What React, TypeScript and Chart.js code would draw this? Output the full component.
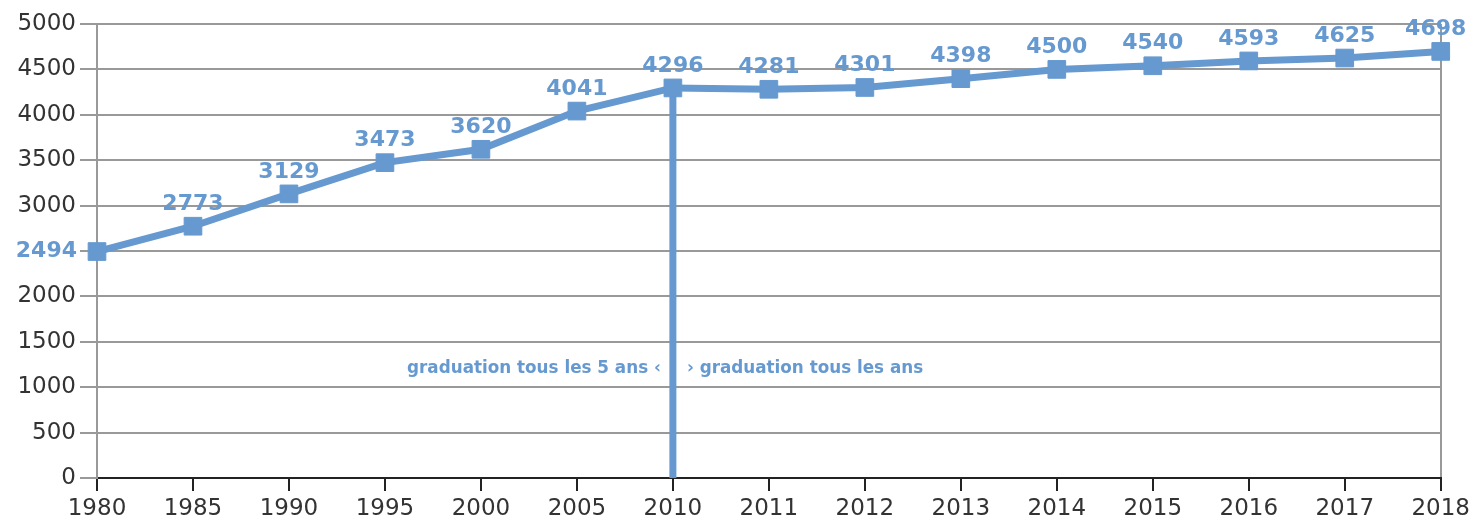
import React, { useEffect, useRef } from "react";
import { Chart, registerables } from "chart.js";

Chart.register(...registerables);

const years = ["1980", "1985", "1990", "1995", "2000", "2005", "2010", "2011", "2012", "2013", "2014", "2015", "2016", "2017", "2018"];
const values = [2494, 2773, 3129, 3473, 3620, 4041, 4296, 4281, 4301, 4398, 4500, 4540, 4593, 4625, 4698];
const splitYear = "2010";
const noteLeft = "graduation tous les 5 ans ‹";
const noteRight = "› graduation tous les ans";
const noteValue = 1000;

const BLUE = "#6699d0";
const GRID = "#999999";
const TEXT = "#333333";

const overlayPlugin = {
  id: "overlay",
  beforeDatasetsDraw(chart: any) {
    const { ctx, scales } = chart;
    const xs = scales.x;
    const ys = scales.y;
    const i = years.indexOf(splitYear);
    const x = xs.getPixelForValue(i);
    const yTop = ys.getPixelForValue(values[i]);
    const yBot = ys.getPixelForValue(0);
    ctx.save();
    ctx.strokeStyle = BLUE;
    ctx.lineWidth = 7;
    ctx.beginPath();
    ctx.moveTo(x, yTop);
    ctx.lineTo(x, yBot);
    ctx.stroke();
    const yn = ys.getPixelForValue(noteValue) - 19;
    ctx.fillStyle = BLUE;
    ctx.font = "bold 16.8px 'DejaVu Sans'";
    ctx.textBaseline = "middle";
    ctx.textAlign = "right";
    ctx.fillText(noteLeft, x - 12, yn);
    ctx.textAlign = "left";
    ctx.fillText(noteRight, x + 14, yn);
    ctx.restore();
  },
  afterDatasetsDraw(chart: any) {
    const { ctx } = chart;
    const meta = chart.getDatasetMeta(0);
    ctx.save();
    ctx.font = "bold 22px 'DejaVu Sans'";
    ctx.textBaseline = "middle";
    meta.data.forEach((pt: any, i: number) => {
      const label = String(values[i]);
      if (i === 0) {
        ctx.textAlign = "right";
        const w = ctx.measureText(label).width;
        ctx.fillStyle = "#ffffff";
        ctx.fillRect(pt.x - 19 - w - 8, pt.y - 13, w + 10, 26);
        ctx.fillStyle = BLUE;
        ctx.fillText(label, pt.x - 20, pt.y);
      } else {
        ctx.textAlign = "center";
        ctx.fillStyle = BLUE;
        const dx = i === values.length - 1 ? -5 : 0;
        ctx.fillText(label, pt.x + dx, pt.y - 22);
      }
    });
    ctx.restore();
  },
};

export default function App() {
  const ref = useRef<HTMLCanvasElement>(null);
  useEffect(() => {
    if (!ref.current) return;
    const chart = new Chart(ref.current, {
      type: "line",
      data: {
        labels: years,
        datasets: [
          {
            data: values,
            borderColor: BLUE,
            backgroundColor: BLUE,
            borderWidth: 7,
            tension: 0,
            pointStyle: "rect",
            pointRadius: 12.5,
            pointBorderWidth: 1,
            pointBorderColor: BLUE,
            pointBackgroundColor: BLUE,
            clip: false as any,
          },
        ],
      },
      options: {
        responsive: false,
        animation: false,
        devicePixelRatio: 1,
        layout: { padding: { top: 24, right: 33, left: 0, bottom: 0 } },
        plugins: { legend: { display: false }, tooltip: { enabled: false } },
        scales: {
          x: {
            type: "category",
            offset: false,
            grid: {
              color: (c: any) => (c.index === 0 || c.index === years.length - 1 ? GRID : "rgba(0,0,0,0)"),
              lineWidth: 2,
              tickColor: "#222222",
              tickLength: 13,
              drawOnChartArea: true,
            },
            border: { color: "#222222", width: 2 },
            ticks: {
              color: TEXT,
              font: { family: "'DejaVu Sans'", size: 23 },
              padding: 4,
              maxRotation: 0,
              autoSkip: false,
            },
            afterFit(scale: any) {
              scale.height = 40;
            },
          },
          y: {
            min: 0,
            max: 5000,
            grid: { color: GRID, lineWidth: 2, tickLength: 17, tickColor: GRID },
            border: { color: GRID, width: 2 },
            ticks: {
              stepSize: 500,
              color: TEXT,
              font: { family: "'DejaVu Sans'", size: 23 },
              padding: 4,
              callback: (v: any) => String(v),
            },
            afterFit(scale: any) {
              scale.width = 97;
            },
          },
        },
      },
      plugins: [overlayPlugin],
    });
    return () => chart.destroy();
  }, []);
  return (
    <div style={{ position: "fixed", left: 0, top: 0, width: 1474, height: 518, background: "#fff" }}>
      <canvas ref={ref} width={1474} height={518} />
    </div>
  );
}
